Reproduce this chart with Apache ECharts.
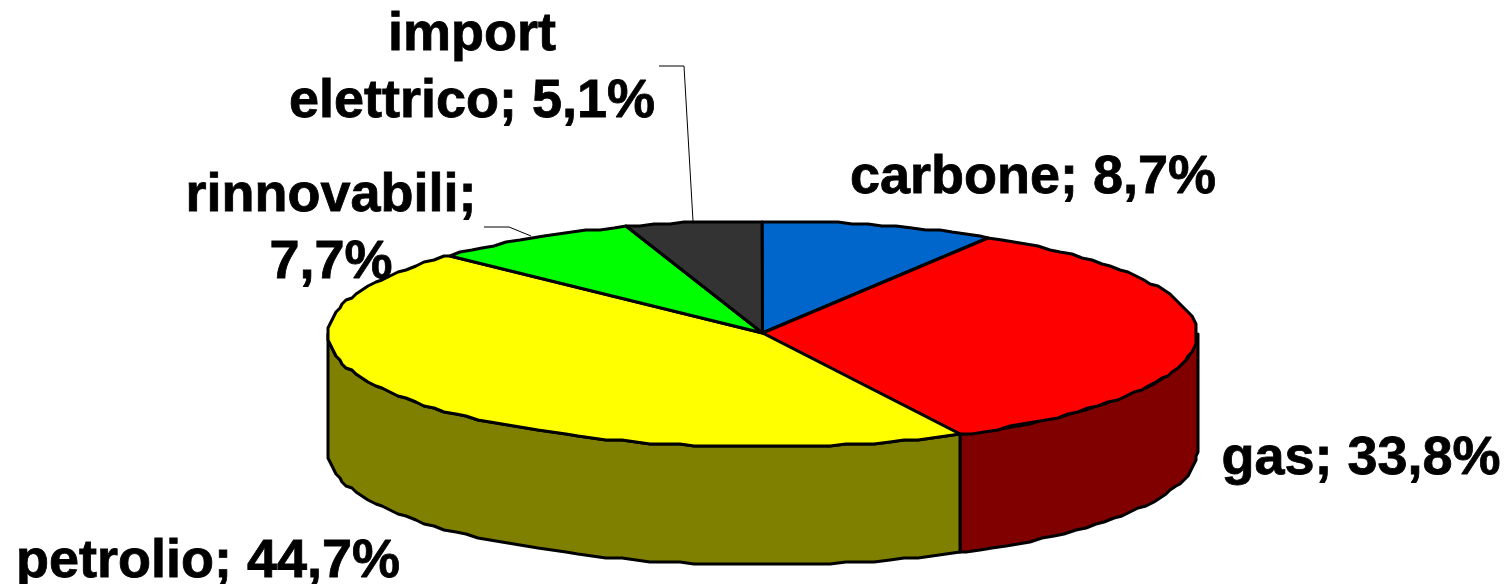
<!DOCTYPE html>
<html>
<head>
<meta charset="utf-8" />
<title>Pie</title>
<script src="https://cdn.jsdelivr.net/npm/echarts@6/dist/echarts.min.js"></script>
<style>
  html, body { margin: 0; padding: 0; background: #ffffff; }
  #chart { width: 1510px; height: 584px; }
</style>
</head>
<body>
<div id="chart"></div>
<script>
const categories = ["carbone", "gas", "petrolio", "rinnovabili", "import elettrico"];
const shares = [8.7, 33.8, 44.7, 7.7, 5.1];
const topColors = ["#0066cc", "#ff0000", "#ffff00", "#00ff00", "#333333"];
const sideColors = ["#003366", "#800000", "#808000", "#008000", "#1a1a1a"];

// how the flattened disc sits on the page
const cx = 762.5, cy = 334, rx = 434.5, ry = 113, depth = 118;
const arcStep = 2;
const snap = 2; // the original outline is stepped, not smooth
const lineW = 3;
const labelFont = 'bold 54px "Liberation Sans", Arial, sans-serif';

const labelSpots = {
  carbone: { x: 1033, y: 205, lines: ["carbone; {v}"] },
  gas: { x: 1361, y: 486, lines: ["gas; {v}"] },
  petrolio: { x: 208, y: 589, lines: ["petrolio; {v}"] },
  rinnovabili: { x: 331, y: 223, lines: ["rinnovabili;", "{v}"], leader: [[484, 227], [509, 227], [531, 236]] },
  "import elettrico": { x: 472, y: 62, lines: ["import", "elettrico; {v}"], leader: [[659, 66], [684, 66], [693, 221]] },
};

const total = shares.reduce((a, b) => a + b, 0);

function sliceAngles(idx) {
  let before = 0;
  for (let i = 0; i < idx; i++) before += shares[i];
  return [(before / total) * 360, ((before + shares[idx]) / total) * 360];
}

function rimPoint(deg, drop) {
  const rad = (deg * Math.PI) / 180;
  const x = cx + rx * Math.sin(rad);
  const y = cy - ry * Math.cos(rad);
  return [Math.round(x / snap) * snap, Math.round(y / snap) * snap + drop];
}

function rim(from, to, drop) {
  const pts = [];
  for (let a = from; a < to; a += arcStep) pts.push(rimPoint(a, drop));
  pts.push(rimPoint(to, drop));
  return pts;
}

function renderSide(params) {
  const [start, end] = sliceAngles(params.dataIndex);
  const from = Math.max(start, 90);
  const to = Math.min(end, 270);
  if (from >= to) return { type: "group", children: [] };
  const upper = rim(from, to, 0);
  const lower = rim(from, to, depth).reverse();
  return {
    type: "polygon",
    shape: { points: upper.concat(lower) },
    style: { fill: sideColors[params.dataIndex], stroke: "#000", lineWidth: lineW, lineJoin: "round" },
  };
}

function renderTop(params) {
  const [start, end] = sliceAngles(params.dataIndex);
  return {
    type: "polygon",
    shape: { points: [[cx, cy - 1]].concat(rim(start, end, 0)) },
    style: { fill: topColors[params.dataIndex], stroke: "#000", lineWidth: lineW, lineJoin: "round" },
  };
}

function renderLabel(params) {
  const name = categories[params.dataIndex];
  const spot = labelSpots[name];
  const pct = shares[params.dataIndex].toFixed(1).replace(".", ",") + "%";
  const children = spot.lines.map((line, i) => ({
    type: "text",
    style: {
      x: spot.x,
      y: spot.y + i * 67,
      text: line.replace("{v}", pct),
      font: labelFont,
      fill: "#000",
      stroke: "#000",
      lineWidth: 0.8,
      textAlign: "center",
      textVerticalAlign: "bottom",
    },
  }));
  if (spot.leader) {
    children.push({
      type: "polyline",
      shape: { points: spot.leader },
      style: { fill: "none", stroke: "#000", lineWidth: 1 },
    });
  }
  return { type: "group", children };
}

const chart = echarts.init(document.getElementById("chart"));
const seriesData = categories.map((name, i) => ({ name, value: shares[i] }));

chart.setOption({
  animation: false,
  backgroundColor: "#ffffff",
  series: [
    { type: "custom", coordinateSystem: "none", renderItem: renderSide, data: seriesData, z: 1 },
    { type: "custom", coordinateSystem: "none", renderItem: renderTop, data: seriesData, z: 2 },
    { type: "custom", coordinateSystem: "none", renderItem: renderLabel, data: seriesData, z: 3 },
  ],
});
</script>
</body>
</html>
